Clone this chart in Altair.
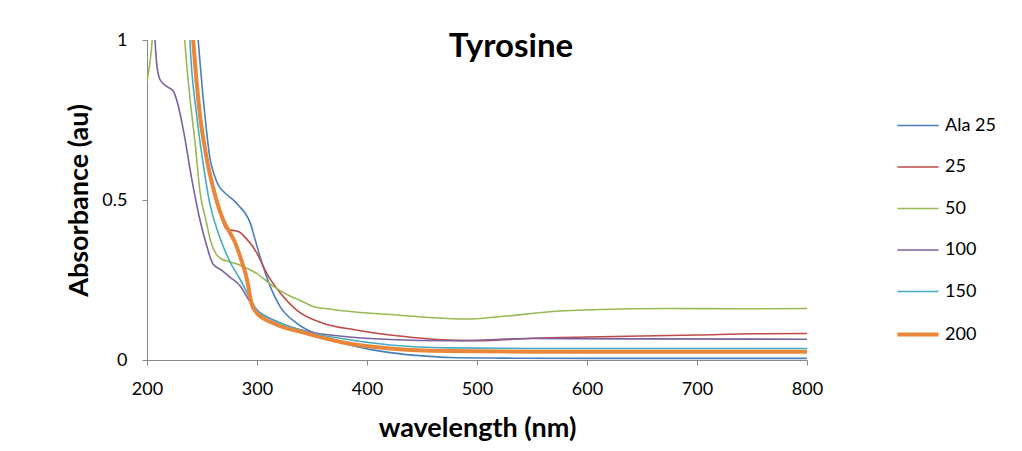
import altair as alt
import pandas as pd

series_order = ["Ala 25", "25", "50", "100", "150", "200"]
colors = ["#4A7EBB", "#BE4B48", "#98B954", "#7D60A0", "#46AAC5", "#E8873A"]
widths = [1.6, 1.6, 1.6, 1.6, 1.6, 4.0]

ala25_wl = [235, 244, 247, 251, 254, 257, 261, 266, 270, 275, 280, 284, 289, 294, 298, 303, 312, 321, 336, 360, 390, 421, 450, 475, 520, 600, 700, 800]
ala25_ab = [1.4, 1.1, 0.98, 0.82, 0.72, 0.635, 0.58, 0.54, 0.525, 0.51, 0.495, 0.48, 0.46, 0.427, 0.38, 0.32, 0.23, 0.167, 0.115, 0.073, 0.042, 0.023, 0.013, 0.008, 0.006, 0.005, 0.005, 0.005]

s25_wl = [235, 242, 248, 254, 260, 266, 272, 278, 284, 290, 295, 300, 309, 321, 336, 360, 390, 421, 450, 475, 500, 550, 600, 650, 700, 750, 800]
s25_ab = [1.4, 0.99, 0.765, 0.63, 0.535, 0.465, 0.41, 0.405, 0.40, 0.38, 0.36, 0.333, 0.27, 0.21, 0.156, 0.115, 0.094, 0.078, 0.068, 0.062, 0.06, 0.068, 0.072, 0.075, 0.078, 0.082, 0.083]

s50_wl = [200, 204, 207, 215, 230, 234, 239, 244, 248, 254, 258, 263, 268, 272, 284, 300, 315, 330, 340, 351, 369, 400, 430, 460, 490, 520, 566, 612, 672, 740, 800]
s50_ab = [0.87, 0.97, 1.1, 1.5, 1.3, 1.02, 0.82, 0.67, 0.53, 0.43, 0.37, 0.33, 0.315, 0.31, 0.297, 0.27, 0.23, 0.2, 0.185, 0.167, 0.158, 0.147, 0.14, 0.132, 0.128, 0.135, 0.151, 0.158, 0.161, 0.16, 0.161]

s100_wl = [200, 205, 207, 209, 212, 218, 224, 228, 233, 241, 248, 254, 260, 268, 275, 285, 294, 300, 315, 330, 345, 375, 421, 475, 550, 650, 800]
s100_ab = [1.3, 1.1, 1.01, 0.92, 0.875, 0.855, 0.84, 0.8, 0.72, 0.56, 0.44, 0.36, 0.30, 0.28, 0.26, 0.23, 0.18, 0.156, 0.125, 0.104, 0.09, 0.075, 0.064, 0.06, 0.067, 0.066, 0.065]

s150_wl = [235, 239, 245, 251, 257, 266, 275, 285, 294, 300, 315, 345, 375, 421, 475, 550, 800]
s150_ab = [1.4, 1.0, 0.77, 0.615, 0.49, 0.385, 0.31, 0.25, 0.19, 0.156, 0.125, 0.088, 0.068, 0.047, 0.038, 0.036, 0.036]

s200_wl = [235, 242, 248, 254, 260, 269, 275, 279, 285, 291, 295, 300, 315, 345, 375, 421, 475, 550, 800]
s200_ab = [1.4, 1.0, 0.77, 0.635, 0.54, 0.44, 0.40, 0.375, 0.32, 0.25, 0.177, 0.146, 0.115, 0.083, 0.057, 0.036, 0.028, 0.026, 0.026]

all_wl = [ala25_wl, s25_wl, s50_wl, s100_wl, s150_wl, s200_wl]
all_ab = [ala25_ab, s25_ab, s50_ab, s100_ab, s150_ab, s200_ab]

rows = []
for i, (name, wl, ab) in enumerate(zip(series_order, all_wl, all_ab)):
    for w, a in zip(wl, ab):
        rows.append({"series": name, "order": i, "wavelength": w, "absorbance": a})
df = pd.DataFrame(rows)

FONT = "Lato"

legend_cfg = dict(title=None, orient="none", legendX=748, legendY=64,
                  symbolType="stroke", symbolSize=1700,
                  labelFontSize=18, labelOffset=4, rowPadding=10.5,
                  labelColor="#000000")

chart = alt.Chart(df).mark_line(clip=True, interpolate="monotone").encode(
    x=alt.X("wavelength:Q",
            scale=alt.Scale(domain=[200, 800], nice=False),
            axis=alt.Axis(values=[200, 300, 400, 500, 600, 700, 800], title="wavelength (nm)",
                          grid=False, titleFontSize=27, titleFontWeight="bold",
                          labelFontSize=18, titlePadding=17, labelPadding=15, labelFlush=False,
                          domainColor="#888888", tickColor="#888888", tickSize=5,
                          labelColor="#000000", titleColor="#000000")),
    y=alt.Y("absorbance:Q",
            scale=alt.Scale(domain=[0, 1], nice=False),
            axis=alt.Axis(values=[0, 0.5, 1], format="~g", title="Absorbance (au)", grid=False,
                          titleFontSize=27, titleFontWeight="bold", labelFontSize=18,
                          titlePadding=8, labelPadding=15, labelFlush=False,
                          domainColor="#888888", tickColor="#888888", tickSize=5,
                          labelColor="#000000", titleColor="#000000")),
    color=alt.Color("series:O", scale=alt.Scale(domain=series_order, range=colors),
                    legend=alt.Legend(**legend_cfg)),
    strokeWidth=alt.StrokeWidth("series:O",
                                scale=alt.Scale(type="ordinal", domain=series_order, range=widths),
                                legend=alt.Legend(**legend_cfg)),
    order=alt.Order("order:Q"),
).properties(
    width=660, height=320,
    title=alt.Title("Tyrosine", fontSize=33, fontWeight="bold", font=FONT, color="#000000",
                    anchor="middle", frame="group", dx=34, offset=-33),
    padding={"left": 139, "top": 32, "right": 207, "bottom": 83},
    autosize=alt.AutoSizeParams(type="none"),
).configure(font=FONT).configure_view(stroke=None)

chart.save("out.html", embed_options={"renderer": "svg", "actions": False})
